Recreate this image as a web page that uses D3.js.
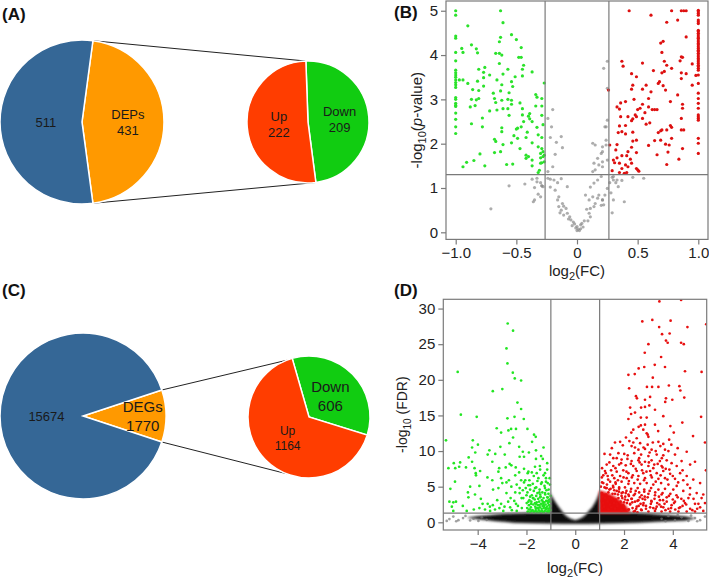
<!DOCTYPE html>
<html>
<head>
<meta charset="utf-8">
<script src="https://cdn.jsdelivr.net/npm/d3@7"></script>
<style>
  body { margin: 0; background: #fff; }
  svg { font-family: "Liberation Sans", Arial, sans-serif; }
</style>
</head>
<body>
<svg id="fig" width="709" height="578"></svg>
<script>
// ---- pie data ----
var aNames = ["DEPs", ""];
var aValues = [431, 511];
var aSubNames = ["Down", "Up"];
var aSubValues = [209, 222];

var cNames = ["DEGs", ""];
var cValues = [1770, 15674];
var cSubNames = ["Down", "Up"];
var cSubValues = [606, 1164];

// ---- volcano (B): log2(FC), -log10(p-value) ----
var bXTicks = [-1, -0.5, 0, 0.5, 1];
var bXTickLabels = ["\u22121.0", "\u22120.5", "0", "0.5", "1.0"];
var bYTicks = [0, 1, 2, 3, 4, 5];
var bFC = 0.263, bCut = 1.301;

var bGreen = [
  [-1,5.0],[-1,4.9],[-1,4.43],[-1,4.38],[-1,4.06],[-1,3.87],[-1,3.66],[-1,3.6],[-1,3.55],[-1,3.5],
  [-1,3.44],[-1,3.38],[-1,3.33],[-1,3.27],[-1,3.04],[-1,3.0],[-1,2.91],[-1,2.87],[-1,2.84],[-1,2.69],
  [-1,2.55],[-1,2.38],[-1,2.23],
  [-0.63,5.0],[-0.61,4.73],[-0.90,4.66],[-0.54,4.46],[-0.63,4.40],[-0.64,4.30],[-0.50,4.35],[-0.87,4.23],
  [-0.95,4.15],[-0.83,4.14],[-0.94,4.06],[-0.82,4.05],[-0.67,4.04],[-0.64,4.04],[-0.46,4.17],[-0.62,4.0],
  [-0.48,3.95],[-0.46,3.95],[-0.64,3.81],[-0.44,3.77],[-0.76,3.72],[-0.81,3.68],[-0.57,3.68],[-0.45,3.68],
  [-0.77,3.61],[-0.37,3.62],[-0.72,3.55],[-0.61,3.57],[-0.51,3.51],[-0.45,3.53],[-0.97,3.44],[-0.94,3.44],
  [-0.77,3.49],[-0.66,3.44],[-0.90,3.36],[-0.82,3.41],[-0.54,3.40],[-0.27,3.37],[-0.86,3.22],[-0.77,3.30],
  [-0.62,3.33],[-0.53,3.29],[-0.81,3.20],[-0.69,3.14],[-0.63,3.19],[-0.56,3.15],[-0.34,3.11],[-0.33,3.05],
  [-0.87,3.0],[-0.83,2.99],[-0.81,3.02],[-0.68,3.02],[-0.62,2.98],[-0.57,3.0],[-0.54,2.98],[-0.29,3.02],
  [-0.67,2.93],[-0.47,2.92],[-0.88,2.83],[-0.84,2.86],[-0.61,2.79],[-0.57,2.79],[-0.54,2.89],[-0.66,2.76],
  [-0.72,2.74],[-0.45,2.79],[-0.34,2.85],[-0.29,2.85],[-0.39,2.68],[-0.56,2.64],[-0.45,2.65],[-0.40,2.62],
  [-0.78,2.58],[-0.39,2.56],[-0.44,2.50],[-0.37,2.50],[-0.87,2.45],[-0.78,2.38],[-0.49,2.35],[-0.50,2.33],
  [-0.62,2.36],[-0.62,2.27],[-0.46,2.38],[-0.33,2.37],[-0.28,2.43],[-0.29,2.64],[-0.41,2.26],[-0.52,2.18],
  [-0.32,2.20],[-0.29,2.14],[-0.42,2.14],[-0.49,2.12],[-0.68,2.10],[-0.67,2.05],[-0.37,2.02],[-0.61,1.98],
  [-0.54,2.02],[-0.47,1.89],[-0.32,1.93],[-0.29,1.89],[-0.28,1.82],[-0.30,1.78],[-0.68,1.80],[-0.63,1.82],
  [-0.42,1.74],[-0.40,1.71],[-0.42,1.67],[-0.80,1.77],[-0.30,1.68],[-0.28,1.71],[-0.30,1.56],[-0.29,1.57],
  [-0.37,1.63],[-0.85,1.62],[-0.91,1.58],[-0.76,1.50],[-0.94,1.48],[-0.58,1.53],[-0.53,1.54],[-0.37,1.50],
  [-0.31,1.40],[-0.32,1.35],[-0.27,1.59],[-0.27,1.74]
];

var bRed = [
  [1,5.01],[1,4.98],[1,4.94],[1,4.90],[1,4.79],[1,4.75],[1,4.71],[1,4.56],[1,4.53],[1,4.49],[1,4.45],
  [1,4.41],[1,4.38],[1,4.34],[1,4.30],[1,4.26],[1,4.23],[1,4.19],[1,4.15],[1,4.11],[1,4.08],[1,4.04],
  [1,4.0],[1,3.96],[1,3.92],[1,3.89],[1,3.85],[1,3.81],[1,3.77],[1,3.74],[1,3.70],[1,3.66],[1,3.55],
  [1,3.36],[1,3.14],[1,3.02],[1,2.91],[1,2.80],[1,2.65],[1,2.61],[1,2.57],[1,2.53],[1,2.12],[1,2.01],[1,1.78],
  [0.43,5.0],[0.61,4.90],[0.78,5.0],[0.86,5.0],[0.88,5.0],[0.90,5.0],[0.83,4.79],[0.74,4.74],[0.90,4.41],
  [0.71,4.31],[0.69,4.27],[0.70,4.06],[0.86,3.96],[0.87,3.95],[0.37,3.86],[0.85,3.87],[0.54,3.82],[0.72,3.86],
  [0.38,3.75],[0.95,3.80],[0.74,3.77],[0.78,3.70],[0.63,3.65],[0.70,3.60],[0.72,3.63],[0.45,3.58],[0.86,3.60],
  [0.90,3.58],[0.49,3.51],[0.98,3.54],[0.86,3.47],[0.68,3.40],[0.67,3.36],[0.46,3.32],[0.57,3.32],[0.71,3.31],
  [0.95,3.32],[0.45,3.23],[0.54,3.23],[0.61,3.17],[0.73,3.21],[0.83,3.10],[0.40,2.95],[0.47,3.0],[0.59,3.02],
  [0.77,2.95],[0.36,2.92],[0.33,2.83],[0.35,2.78],[0.54,2.89],[0.52,2.80],[0.59,2.83],[0.64,2.77],[0.62,2.77],
  [0.66,2.77],[0.87,2.89],[0.87,2.80],[0.50,2.77],[0.56,2.70],[0.48,2.65],[0.42,2.61],[0.49,2.61],[0.46,2.56],
  [0.45,2.52],[0.36,2.61],[0.54,2.57],[0.86,2.57],[0.60,2.47],[0.57,2.44],[0.35,2.40],[0.40,2.41],[0.77,2.41],
  [0.78,2.37],[0.86,2.31],[0.88,2.31],[0.69,2.29],[0.70,2.31],[0.67,2.25],[0.74,2.31],[0.34,2.25],[0.37,2.27],
  [0.40,2.22],[0.46,2.26],[0.27,1.97],[0.33,1.98],[0.46,2.06],[0.49,2.08],[0.64,2.07],[0.69,2.08],[0.73,1.99],
  [0.76,1.97],[0.78,2.12],[0.59,1.96],[0.45,1.92],[0.87,1.89],[0.32,1.86],[0.42,1.82],[0.49,1.80],[0.75,1.81],
  [0.66,1.75],[0.37,1.73],[0.41,1.73],[0.33,1.68],[0.44,1.65],[0.84,1.65],[0.30,1.63],[0.31,1.57],[0.35,1.56],
  [0.45,1.56],[0.40,1.52],[0.42,1.48],[0.37,1.44],[0.74,1.53],[0.49,1.44],[0.50,1.41],[0.51,1.38],[0.29,1.39],
  [0.35,1.35],[0.39,1.33],[0.41,1.35],[0.26,3.21]
];

var bGrey = [
  [-0.20,2.77],[-0.24,2.57],[-0.21,2.38],[-0.17,2.03],[-0.12,1.91],[-0.13,2.16],[-0.22,2.14],[-0.18,1.76],
  [-0.20,1.48],[-0.24,1.37],[-0.24,1.22],[-0.22,1.20],[-0.19,1.18],[-0.13,1.21],[-0.16,1.12],[-0.22,1.02],
  [-0.33,1.14],[-0.29,1.05],[-0.35,0.73],[-0.18,0.95],[-0.08,1.03],[-0.15,0.80],[-0.16,0.73],[-0.12,0.65],
  [-0.11,0.59],[-0.15,0.58],[-0.13,0.50],[-0.09,0.54],[-0.14,0.44],[-0.08,0.43],[-0.11,0.39],[-0.06,0.35],
  [-0.07,0.30],[-0.05,0.28],[-0.03,0.23],[-0.02,0.19],[0.00,0.13],[0.01,0.07],[0.02,0.04],[0.00,0.04],
  [0.03,0.17],[0.04,0.20],[0.06,0.26],[0.09,0.26],[0.11,0.35],[0.10,0.43],[0.08,0.52],[0.11,0.54],
  [0.14,0.58],[0.15,0.65],[0.17,0.77],[0.13,0.80],[0.18,0.84],[0.21,0.73],[0.20,0.61],[0.10,0.73],
  [0.07,0.84],[0.11,1.02],[0.14,1.11],[0.17,1.18],[0.20,1.26],[0.13,1.37],[0.15,1.41],[0.14,1.56],
  [0.18,1.52],[0.21,1.59],[0.17,1.67],[0.20,1.78],[0.21,1.93],[0.15,1.97],[0.13,2.01],[0.24,1.97],
  [0.24,2.38],[0.25,2.53],[0.29,1.24],[0.30,1.18],[0.34,1.03],[0.28,0.89],[0.32,1.12],[-0.30,0.80],
  [-0.28,1.03],[-0.56,1.05],[-0.43,1.09],[-0.71,0.53],[-0.37,1.20],[-0.33,1.22],[-0.35,1.01],[-0.29,1.05],
  [-0.32,0.86],[-0.36,0.69],[-0.30,1.12],[0.25,3.86],[0.22,3.70],[0.25,3.25],[0.23,2.38],[0.24,2.08],
  [0.21,1.82],[0.25,1.63],[0.21,1.48],[0.30,1.26],[0.33,1.18],[0.37,1.17],[0.46,1.24],[0.55,1.22],
  [0.30,0.73],[0.39,0.69],[0.29,0.44],[0.27,1.12],[0.25,0.99],[0.23,0.84],[0.21,0.73],[0.22,0.62],
  [-0.01,0.10],[0.03,0.08],[-0.04,0.15],[0.05,0.12]
];

// ---- volcano (D): log2(FC), -log10(FDR) ----
var dXTicks = [-4, -2, 0, 2, 4];
var dXTickLabels = ["\u22124", "\u22122", "0", "2", "4"];
var dYTicks = [0, 5, 10, 15, 20, 25, 30];
var dFC = 1, dCut = 1.301;

var dGreen = [
  [-2.77,27.9],[-2.55,26.9],[-2.82,24.4],[-2.78,22.3],[-4.82,21.1],[-2.56,21.0],[-2.48,20.2],[-2.22,19.9],
  [-3.38,18.4],[-2.99,18.7],[-2.37,16.8],[-2.22,15.9],[-4.69,15.1],[-4.04,14.8],[-2.78,14.6],[-2.49,14.8],
  [-2.11,14.5],[-3.22,13.2],[-2.63,13.1],[-2.43,13.1],[-3.04,12.6],[-2.74,12.9],[-1.96,13.1],[-1.69,12.3],
  [-1.62,12.0],[-5.30,11.5],[-4.20,11.5],[-1.77,11.3],[-3.99,10.9],[-2.70,11.1],[-4.23,10.5],[-3.07,10.6],
  [-1.61,10.1],[-3.52,10.1],[-4.10,9.8],[-3.28,9.6],[-2.15,9.9],[-2.89,9.5],[-2.10,9.2],[-2.28,9.2],
  [-4.37,9.1],[-3.59,9.5],[-1.33,8.9],[-4.72,8.4],[-4.23,8.5],[-3.40,8.5],[-2.69,8.2],[-2.62,8.0],
  [-4.98,8.3],[-1.61,8.9],[-5.20,7.6],[-4.92,7.6],[-4.76,7.8],[-4.48,7.7],[-4.13,7.6],[-3.12,7.6],
  [-2.85,7.7],[-2.44,7.7],[-2.10,7.5],[-1.65,7.8],[-1.44,7.4],[-4.08,6.9],[-4.07,6.6],[-3.15,7.1],
  [-2.30,7.0],[-1.92,7.1],[-1.78,7.0],[-1.58,6.9],[-1.24,6.9],[-2.46,6.6],[-3.04,6.2],[-2.72,5.9],
  [-3.40,5.9],[-2.22,5.9],[-1.88,5.9],[-1.51,6.2],[-1.20,6.2],[-4.93,5.7],[-2.99,5.5],[-2.82,5.6],
  [-2.10,5.6],[-1.92,5.2],[-1.74,5.4],[-1.37,5.6],[-1.13,5.5],[-4.31,5.0],[-3.93,5.1],[-3.15,4.8],
  [-3.37,4.6],[-2.62,5.0],[-2.28,4.8],[-2.03,4.8],[-1.65,4.8],[-5.12,4.7],[-4.11,3.9],[-2.82,4.1],
  [-2.46,4.2],[-2.28,4.1],[-1.96,4.2],[-1.47,4.2],[-1.24,4.1],[-3.87,3.3],[-4.38,3.5],[-2.65,3.4],
  [-2.13,3.4],[-1.85,3.6],[-1.72,3.4],[-1.44,3.5],[-1.14,3.5],[-5.16,2.9],[-5.00,2.8],[-4.89,2.9],
  [-4.61,2.3],[-3.59,2.6],[-3.38,2.4],[-3.04,2.6],[-2.43,2.6],[-1.99,2.7],[-1.61,2.6],[-1.31,2.6],
  [-1.10,2.9],[-5.06,2.2],[-4.16,1.8],[-3.93,2.0],[-3.70,1.8],[-3.29,1.8],[-3.11,2.0],[-2.67,2.1],
  [-2.19,2.0],[-1.85,1.8],[-1.51,2.0],[-1.20,2.0],[-1.03,2.3],[-5.00,1.6],[-4.45,1.6],[-3.49,1.6],
  [-2.95,1.6],[-2.40,1.6],[-1.79,1.6],[-1.37,1.6],[-1.10,1.6],
  [-1.95,1.5],[-1.9,2.4],[-1.88,3.1],[-1.85,1.4],[-1.82,2.1],[-1.8,2.9],[-1.78,3.8],[-1.75,1.7],
  [-1.72,2.5],[-1.7,4.4],[-1.68,1.5],[-1.66,3.2],[-1.64,2.2],[-1.62,1.9],[-1.6,3.7],[-1.58,2.8],
  [-1.56,1.4],[-1.55,4.1],[-1.53,2.4],[-1.52,3.3],[-1.5,1.7],[-1.48,2.9],[-1.46,4.6],[-1.45,2.1],
  [-1.43,1.5],[-1.42,3.6],[-1.4,2.6],[-1.38,1.9],[-1.37,3.1],[-1.35,4.2],[-1.34,2.3],[-1.32,1.4],
  [-1.3,3.4],[-1.29,2.0],[-1.27,2.8],[-1.26,5.1],[-1.25,1.6],[-1.23,3.9],[-1.22,2.5],[-1.2,1.8],
  [-1.19,3.0],[-1.18,4.5],[-1.16,2.2],[-1.15,1.5],[-1.14,3.5],[-1.12,2.7],[-1.11,1.9],[-1.1,4.0],
  [-1.08,2.4],[-1.07,1.4],[-1.06,3.2],[-1.05,2.0],[-1.04,5.3],[-1.03,2.9],[-1.02,1.7],[-1.01,3.7],
  [-1.9,1.8],[-1.7,1.35],[-1.5,1.35],[-1.3,1.35],[-1.1,1.35],[-1.6,4.9],[-1.4,5.4],[-1.2,5.7],
  [-1.85,4.6],[-1.97,2.0],[-1.74,3.4],[-1.44,3.9],[-1.24,4.8],[-1.09,4.6],[-1.33,2.9],[-1.57,2.0],
  [-1.81,2.6],[-1.65,2.7],[-1.47,2.4],[-1.28,2.3],[-1.13,3.0],[-1.36,1.6],[-1.62,1.6],[-1.92,2.9],
  [-1.05,6.2],[-1.15,7.4],[-1.3,6.6],[-1.45,7.9],[-1.55,5.8],[-1.7,6.5],[-1.85,5.2],[-1.95,6.9],
  [-2.05,5.9],[-2.2,3.4],[-2.35,2.3],[-2.5,3.0],[-2.6,1.7],[-2.75,2.9],[-2.9,2.2],[-3.2,3.1],
  [-3.5,2.2],[-3.8,2.6],[-2.0,3.8],[-2.15,4.5],[-2.4,5.3],[-1.15,8.3],[-1.4,9.3],[-1.9,9.8],
  [-2.3,10.6],[-2.55,11.9],[-1.3,10.5],[-3.6,6.3],[-3.9,7.2],[-4.4,4.2]
];

var dRed = [
  [3.45,31.0],[4.34,31.2],[2.75,28.2],[3.16,28.4],[3.91,28.3],[5.37,27.8],[3.44,27.4],[4.60,27.4],
  [3.87,26.5],[3.56,26.4],[3.72,25.5],[3.79,25.2],[4.34,25.2],[4.45,25.0],[3.00,25.0],[2.85,23.8],
  [3.52,23.2],[2.60,21.6],[2.83,21.8],[3.26,22.1],[3.68,21.8],[4.50,21.2],[5.18,21.1],[2.18,20.7],
  [2.44,20.8],[3.18,20.3],[2.21,18.8],[2.94,19.0],[3.15,19.0],[3.41,19.0],[3.84,19.2],[4.27,19.1],
  [4.31,18.5],[2.49,17.7],[2.53,17.4],[2.86,17.2],[3.07,17.6],[3.72,17.4],[3.69,16.9],[3.98,17.2],
  [4.47,17.5],[2.25,16.1],[2.45,15.4],[2.70,16.1],[2.86,16.2],[3.04,16.4],[3.27,15.8],[2.29,15.2],
  [2.69,14.7],[2.93,14.7],[3.61,14.9],[2.18,14.5],[4.39,14.0],[5.16,14.8],[2.69,13.6],[2.86,13.7],
  [2.38,13.0],[2.79,13.0],[3.27,13.7],[4.04,12.6],[4.83,12.1],[2.08,11.9],[2.52,11.8],[2.93,12.5],
  [2.97,12.3],[5.32,11.2],[1.63,11.2],[1.84,11.3],[2.22,11.4],[2.66,11.1],[2.97,10.9],[3.18,11.2],
  [3.41,11.3],[3.61,11.0],[3.94,10.9],[2.31,10.7],[2.45,10.5],[2.59,10.2],[2.86,10.3],[3.13,10.2],
  [3.49,10.7],[3.68,10.2],[3.82,10.0],[4.57,9.9],[1.43,9.5],[1.77,9.7],[2.01,9.6],[2.42,9.7],
  [2.70,9.5],[3.00,9.3],[3.34,9.5],[3.61,9.4],[4.09,9.5],[1.56,9.0],[1.90,8.8],[2.14,8.9],
  [2.31,8.6],[2.59,8.7],[2.86,8.5],[3.13,8.7],[3.47,8.6],[3.75,8.7],[3.95,8.3],[4.36,8.6],
  [4.91,8.5],[5.36,7.3],[1.29,8.1],[1.56,7.9],[1.80,8.1],[2.07,8.0],[2.38,7.9],[2.72,8.1],
  [3.00,7.9],[3.24,8.1],[3.54,7.9],[3.71,7.5],[4.16,7.9],[4.71,8.1],[1.22,7.2],[1.47,7.3],
  [1.70,7.1],[1.97,7.3],[2.18,6.9],[2.52,7.2],[2.79,6.9],[3.07,7.2],[3.34,6.9],[3.61,7.2],
  [3.89,6.8],[4.30,6.9],[4.57,6.5],[5.12,5.5],[1.09,6.3],[1.33,6.5],[1.60,6.2],[1.84,6.5],
  [2.11,6.2],[2.32,6.3],[2.59,6.5],[2.86,6.2],[3.14,6.3],[3.41,6.1],[3.68,6.2],[4.09,6.1],
  [4.43,5.9],[4.84,6.0],[1.15,5.5],[1.43,5.7],[1.66,5.4],[1.90,5.7],[2.18,5.4],[2.42,5.5],
  [2.66,5.4],[2.93,5.5],[3.20,5.3],[3.52,5.5],[3.82,5.3],[4.16,5.1],[4.71,4.8],[1.29,4.8],
  [1.56,4.9],[1.80,4.7],[2.04,4.9],[2.29,4.7],[2.56,4.8],[2.83,4.6],[3.11,4.8],[3.41,4.6],
  [3.68,4.7],[4.02,4.6],[4.43,4.4],[4.98,4.1],[5.25,3.9],[1.09,4.1],[1.36,4.2],[1.63,4.0],
  [1.90,4.1],[2.18,3.9],[2.45,4.0],[2.72,3.8],[3.00,4.0],[3.27,3.8],[3.54,3.9],[3.84,3.7],
  [4.20,3.5],[4.64,3.4],[5.18,3.4],[1.22,3.4],[1.50,3.3],[1.77,3.4],[2.04,3.2],[2.32,3.3],
  [2.59,3.1],[2.86,3.2],[3.13,2.9],[3.47,3.1],[3.75,2.9],[4.09,2.9],[4.50,2.7],[4.91,2.6],
  [5.32,2.7],[1.15,2.7],[1.43,2.5],[1.70,2.6],[1.97,2.4],[2.25,2.5],[2.52,2.2],[2.79,2.4],
  [3.07,2.1],[3.34,2.2],[3.61,2.1],[3.93,2.0],[4.30,2.1],[4.71,1.9],[5.12,2.1],[1.09,2.0],
  [1.36,1.8],[1.63,1.9],[1.90,1.7],[2.18,1.8],[2.45,1.6],[2.72,1.7],[3.00,1.5],[3.27,1.6],
  [3.54,1.5],[3.89,1.5],[4.23,1.5],[4.57,1.5],[4.91,1.5],[5.25,1.6],
  [1.05,5.0],[1.1,5.6],[1.2,4.9],[1.3,5.3],[1.45,4.7],[1.55,5.1],[1.7,4.4],[1.8,4.9],[1.95,4.2],
  [2.05,3.6],[2.15,3.1],[2.25,2.6],[2.35,2.0],[2.4,1.5],[2.5,1.9],[2.3,3.3],[2.1,4.4],[1.9,3.7],
  [2.0,2.8],[2.2,1.8],[1.65,5.6],[1.35,6.0],[1.15,6.6],[2.45,2.9],[2.6,2.3],[2.55,1.4],[1.75,3.9],
  [1.6,4.5],[1.4,4.6],[1.25,4.8],[2.7,1.8],[2.65,3.5],[2.8,2.7],[2.9,1.9],[3.1,2.6],[3.3,1.9],
  [3.45,2.5],[3.7,1.7],[3.95,2.4],[4.1,1.8],[4.4,2.3],[4.8,1.7],[5.05,2.6],[2.85,3.6],[3.25,3.3],
  [3.6,3.1],[4.0,3.2],[4.45,3.0],[4.85,3.3],
  [1.05,3.0],[1.12,3.6],[1.18,2.2],[1.27,3.9],[1.33,2.9],[1.41,3.5],[1.48,2.1],[1.53,4.0],[1.59,2.7],
  [1.67,3.2],[1.73,2.3],[1.79,4.3],[1.86,2.9],[1.93,3.4],[2.0,2.2],[2.07,4.1],[2.12,2.7],[2.2,3.7],
  [2.27,4.3],[2.34,2.8],[2.4,3.8],[2.48,4.4],[2.55,3.0],[2.62,4.2],[2.68,2.6],[2.76,3.3],[2.83,4.3],
  [2.9,2.3],[2.97,3.5],[3.05,4.4],[3.12,3.0],[3.2,2.0],[3.28,4.2],[3.36,2.7],[3.43,3.6],[3.52,2.2],
  [3.58,4.1],[3.66,2.6],[3.75,3.5],[3.82,1.9],[3.9,4.0],[4.05,2.7],[4.15,3.8],[4.25,2.0],[4.35,3.3],
  [4.55,2.5],[4.7,3.9],[5.0,1.9],[1.1,7.6],[1.25,6.9],[1.4,8.4],[1.52,6.6],[1.65,7.6],[1.75,5.9],
  [1.88,8.3],[1.98,6.3],[2.1,7.1],[2.2,5.8],[2.28,8.2],[2.36,6.6],[2.48,7.5],[2.56,6.0],[2.64,8.4],
  [2.74,7.3],[2.82,5.9],[2.92,7.1],[3.02,8.4],[3.1,6.6],[3.2,7.6],[3.3,5.7],[3.38,8.2],[3.5,6.6],
  [3.58,7.7],[3.78,6.0],[3.86,7.4],[4.0,6.5],[4.22,5.6],[4.4,7.3],[4.6,5.3],[1.2,9.6],[1.5,10.4],
  [1.7,9.0],[1.95,10.8],[2.15,9.4],[2.38,11.2],[2.62,9.0],[2.8,10.5],[3.05,9.8],[3.3,10.0],[3.55,9.0],
  [3.85,11.6],[4.2,10.4],[2.3,12.6],[2.6,13.4],[3.0,12.0],[3.4,12.8],[3.9,13.5]
];

// dense solid part of the up-regulated cloud, outline
var dRedCore = [[1.0,1.3],[2.25,1.3],[2.1,2.2],[1.85,3.0],[1.6,3.6],[1.3,4.1],[1.0,4.4]];

// outline of the dense black band of non-significant genes
var dBlackBand = [
  [-4.4,0.65],[-4.0,0.85],[-3.5,1.0],[-3.0,1.15],[-2.5,1.25],[-2.0,1.3],[-1.0,1.3],[-1.0,3.9],
  [-0.85,3.0],[-0.69,2.2],[-0.55,1.55],[-0.42,1.0],[-0.28,0.65],[-0.14,0.42],[0,0.3],[0.14,0.42],
  [0.28,0.65],[0.42,1.0],[0.55,1.55],[0.7,2.1],[0.85,3.0],[1.0,4.2],[1.0,1.3],[2.5,1.3],
  [3.0,1.2],[3.5,1.05],[4.0,0.95],[4.5,0.8],[4.9,0.55],[4.5,0.25],[3.5,0.1],[2.5,-0.05],
  [1.5,-0.15],[0.5,-0.2],[-0.5,-0.2],[-1.5,-0.15],[-2.5,-0.05],[-3.3,0.2],[-4.0,0.45]
];

var dGrey = [
  [-5.27,0.2],[-5.16,0.45],[-4.88,0.15],[-4.79,0.3],[-4.6,0.6],[-4.31,0.25],[-4.17,0.5],[-3.97,0.2],
  [-3.83,0.7],[-3.63,0.35],[-5.0,0.8],[-4.5,0.9],[3.54,0.5],[3.82,0.9],[4.09,0.3],[4.36,0.7],
  [4.64,0.2],[4.91,0.6],[5.12,0.3],[5.32,0.8],[4.2,1.0],[4.75,0.95],[5.0,0.15],[3.7,0.15]
];

var blue = '#356796', orange = '#ff9900', pieGreen = '#11cc11', pieRed = '#ff3d00';

var svg = d3.select('#fig');
svg.append('rect').attr('width', 709).attr('height', 578).attr('fill', '#fff');

// soft edge for the dense clouds drawn as shapes
svg.append('defs').append('filter').attr('id', 'soft')
  .attr('x', '-10%').attr('y', '-10%').attr('width', '120%').attr('height', '120%')
  .append('feGaussianBlur').attr('stdDeviation', 0.8);

function pt(cx, cy, r, a) {
  return [cx + r * Math.sin(a), cy - r * Math.cos(a)];
}

function twoLineLabel(g, x, y, lines, fs) {
  var lh = fs * 1.25;
  var y0 = y - (lines.length - 1) * lh / 2 + fs * 0.36;
  var t = g.append('text').attr('text-anchor', 'middle')
    .attr('font-size', fs + 'px').attr('fill', '#1a1a1a');
  lines.forEach(function(s, i) {
    t.append('tspan').attr('x', x).attr('y', y0 + i * lh).text(s);
  });
}

function pieOfPie(p) {
  var g = svg.append('g');
  var deg = Math.PI / 180;
  var span = 2 * Math.PI * p.values[0] / d3.sum(p.values);
  var s0 = Math.PI / 2 - span / 2;
  var big = d3.pie().sort(null).startAngle(s0).endAngle(s0 + 2 * Math.PI)(p.values);
  var sub = d3.pie().sort(null).startAngle(p.subStart * deg)
    .endAngle(p.subStart * deg + 2 * Math.PI)(p.subValues);

  // connector lines
  var e1 = pt(p.cx, p.cy, p.r, s0), e2 = pt(p.cx, p.cy, p.r, s0 + span);
  var t1 = pt(p.sx, p.sy, p.sr, p.link[0] * deg), t2 = pt(p.sx, p.sy, p.sr, p.link[1] * deg);
  g.append('line').attr('x1', e1[0]).attr('y1', e1[1]).attr('x2', t1[0]).attr('y2', t1[1])
    .attr('stroke', '#222').attr('stroke-width', 1);
  g.append('line').attr('x1', e2[0]).attr('y1', e2[1]).attr('x2', t2[0]).attr('y2', t2[1])
    .attr('stroke', '#222').attr('stroke-width', 1);

  var arcBig = d3.arc().innerRadius(0).outerRadius(p.r);
  g.append('g').attr('transform', 'translate(' + p.cx + ',' + p.cy + ')')
    .selectAll('path').data(big).enter().append('path')
    .attr('d', arcBig)
    .attr('fill', function(d, i) { return [orange, blue][i]; })
    .attr('stroke', '#fff').attr('stroke-width', 1.5);

  var arcSub = d3.arc().innerRadius(0).outerRadius(p.sr);
  g.append('g').attr('transform', 'translate(' + p.sx + ',' + p.sy + ')')
    .selectAll('path').data(sub).enter().append('path')
    .attr('d', arcSub)
    .attr('fill', function(d, i) { return [pieGreen, pieRed][i]; })
    .attr('stroke', '#fff').attr('stroke-width', 1.5);

  big.forEach(function(d, i) {
    var m = (d.startAngle + d.endAngle) / 2;
    var c = pt(p.cx, p.cy, p.r * p.labelK[i], m);
    var lines = p.names[i] ? [p.names[i], String(p.values[i])] : [String(p.values[i])];
    twoLineLabel(g, c[0], c[1], lines, p.fonts[i]);
  });
  sub.forEach(function(d, i) {
    var m = (d.startAngle + d.endAngle) / 2;
    var c = pt(p.sx, p.sy, p.sr * p.subLabelK[i], m);
    twoLineLabel(g, c[0], c[1], [p.subNames[i], String(p.subValues[i])], p.subFonts[i]);
  });
}

function panelTag(x, y, s) {
  svg.append('text').attr('x', x).attr('y', y).attr('font-size', '17px')
    .attr('font-weight', 'bold').attr('fill', '#111').text(s);
}

function volcano(v) {
  var g = svg.append('g');
  var x = d3.scaleLinear().domain(v.xDomain).range([v.left, v.right]);
  var y = d3.scaleLinear().domain(v.yDomain).range([v.bottom, v.top]);

  g.append('clipPath').attr('id', v.id + '-clip').append('rect')
    .attr('x', v.left).attr('y', v.top)
    .attr('width', v.right - v.left).attr('height', v.bottom - v.top);
  var plot = g.append('g').attr('clip-path', 'url(#' + v.id + '-clip)');

  var area = d3.line().x(function(d) { return x(d[0]); }).y(function(d) { return y(d[1]); })
    .curve(d3.curveLinearClosed);
  if (v.band) {
    plot.append('path').attr('d', area(v.band)).attr('fill', '#111')
      .attr('stroke', '#555').attr('stroke-width', 1.5).attr('stroke-opacity', 0.6)
      .attr('filter', 'url(#soft)');
  }
  function dots(data, fill, r, op) {
    plot.append('g').selectAll('circle').data(data).enter().append('circle')
      .attr('cx', function(d) { return x(d[0]); })
      .attr('cy', function(d) { return y(d[1]); })
      .attr('r', r).attr('fill', fill).attr('fill-opacity', op);
  }
  dots(v.grey, v.greyFill, v.r, 0.7);
  if (v.core) {
    plot.append('path').attr('d', area(v.core)).attr('fill', v.redFill)
      .attr('stroke', v.redFill).attr('stroke-width', 1).attr('stroke-linejoin', 'round')
      .attr('filter', 'url(#soft)');
  }
  dots(v.green, v.greenFill, v.r, 1);
  dots(v.red, v.redFill, v.r, 1);

  // cut-off lines
  [-v.fc, v.fc].forEach(function(f) {
    g.append('line').attr('x1', x(f)).attr('x2', x(f)).attr('y1', v.top).attr('y2', v.bottom)
      .attr('stroke', '#7a7a7a').attr('stroke-width', 1.2);
  });
  g.append('line').attr('x1', v.left).attr('x2', v.right).attr('y1', y(v.cut)).attr('y2', y(v.cut))
    .attr('stroke', '#7a7a7a').attr('stroke-width', 1.2);

  g.append('rect').attr('x', v.left).attr('y', v.top)
    .attr('width', v.right - v.left).attr('height', v.bottom - v.top)
    .attr('fill', 'none').attr('stroke', '#7a7a7a').attr('stroke-width', 1.2);

  var ax = g.append('g').attr('transform', 'translate(0,' + v.bottom + ')')
    .call(d3.axisBottom(x).tickValues(v.xTicks).tickSize(5).tickPadding(3)
      .tickFormat(function(d, i) { return v.xTickLabels[i]; }));
  var ay = g.append('g').attr('transform', 'translate(' + v.left + ',0)')
    .call(d3.axisLeft(y).tickValues(v.yTicks).tickSize(5).tickPadding(3)
      .tickFormat(d3.format('d')));
  [ax, ay].forEach(function(a) {
    a.select('.domain').remove();
    a.selectAll('line').attr('stroke', '#7a7a7a').attr('stroke-width', 1.2);
    a.selectAll('text').attr('font-size', '15px').attr('fill', '#222')
      .attr('font-family', '"Liberation Sans", Arial, sans-serif');
  });

  // axis titles
  var xt = g.append('text').attr('x', (v.left + v.right) / 2).attr('y', v.xTitleY)
    .attr('text-anchor', 'middle').attr('font-size', '15px').attr('fill', '#222');
  xt.append('tspan').text('log');
  xt.append('tspan').attr('font-size', '11px').attr('dy', 4).text('2');
  xt.append('tspan').attr('dy', -4).text('(FC)');

  var yt = g.append('text')
    .attr('transform', 'translate(' + v.yTitleX + ',' + ((v.top + v.bottom) / 2) + ') rotate(-90)')
    .attr('text-anchor', 'middle').attr('font-size', v.yTitleSize + 'px').attr('fill', '#222');
  yt.append('tspan').text('-log');
  yt.append('tspan').attr('font-size', (v.yTitleSize - 4) + 'px').attr('dy', 4).text('10');
  v.yTitle.forEach(function(part, i) {
    var ts = yt.append('tspan').text(part.t);
    if (i === 0) ts.attr('dy', -4);
    if (part.i) ts.attr('font-style', 'italic');
  });
}

pieOfPie({
  values: aValues, names: aNames, subValues: aSubValues, subNames: aSubNames,
  cx: 82, cy: 122, r: 82, sx: 308, sy: 122, sr: 61,
  subStart: -2, link: [-2, 172.6],
  labelK: [0.56, 0.44], subLabelK: [0.52, 0.48],
  fonts: [13, 13], subFonts: [13, 13]
});
pieOfPie({
  values: cValues, names: cNames, subValues: cSubValues, subNames: cSubNames,
  cx: 83, cy: 416, r: 83, sx: 309, sy: 417, sr: 61,
  subStart: -16, link: [-21.6, 201.6],
  labelK: [0.72, 0.44], subLabelK: [0.49, 0.49],
  fonts: [15, 13], subFonts: [15, 12]
});

volcano({
  id: 'b', left: 446, right: 708, top: 1, bottom: 239.4,
  xDomain: [-1.08, 1.08], yDomain: [-0.16, 5.22],
  xTicks: bXTicks, xTickLabels: bXTickLabels, yTicks: bYTicks,
  fc: bFC, cut: bCut, r: 1.6,
  grey: bGrey, green: bGreen, red: bRed,
  greyFill: '#8a8a8a', greenFill: '#2be22b', redFill: '#dd1010',
  xTitleY: 276, yTitleX: 422, yTitleSize: 15,
  yTitle: [{t: '('}, {t: 'p', i: true}, {t: '-value)'}]
});
volcano({
  id: 'd', left: 443.3, right: 706.7, top: 299.3, bottom: 530,
  xDomain: [-5.41, 5.39], yDomain: [-1.08, 31.3],
  xTicks: dXTicks, xTickLabels: dXTickLabels, yTicks: dYTicks,
  fc: dFC, cut: dCut, r: 1.35,
  grey: dGrey, green: dGreen, red: dRed, band: dBlackBand, core: dRedCore,
  greyFill: '#777', greenFill: '#22e622', redFill: '#e81010',
  xTitleY: 573, yTitleX: 407, yTitleSize: 14,
  yTitle: [{t: ' (FDR)'}]
});

panelTag(2, 20, '(A)');
panelTag(2, 296, '(C)');
panelTag(394, 18, '(B)');
panelTag(394, 296, '(D)');
</script>
</body>
</html>
